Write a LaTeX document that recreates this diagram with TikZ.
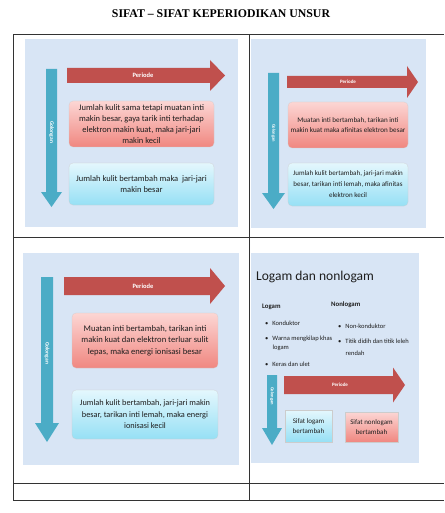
\documentclass[tikz,border=0pt]{standalone}
\usepackage{fontspec}
\setmainfont{Carlito}
\newfontfamily\judulfont{Liberation Serif}
\definecolor{latar}{RGB}{216,229,245}
\definecolor{merah}{RGB}{192,80,77}
\definecolor{tosca}{RGB}{75,172,198}
\definecolor{merahatas}{RGB}{252,214,212}
\definecolor{merahbawah}{RGB}{240,135,128}
\definecolor{biruatas}{RGB}{228,247,253}
\definecolor{birubawah}{RGB}{150,224,245}
\definecolor{teks}{RGB}{30,30,30}
\begin{document}
\begin{tikzpicture}[x=1pt,y=-1pt,
  garis/.style={line width=0.8pt,draw=black!80},
  panel/.style={fill=latar},
  periode/.style={fill=merah},
  golongan/.style={fill=tosca},
  tulisan/.style={text=white,font=\bfseries\fontsize{#1}{#1}\selectfont,inner sep=0},
  kotak/.style={rounded corners=4pt,align=center,inner sep=0,text=teks,draw=white!60!gray,very thin},
  merahbox/.style={kotak,top color=merahatas,bottom color=merahbawah},
  birubox/.style={kotak,top color=biruatas,bottom color=birubawah},
  isi/.style n args={2}{font=\fontsize{#1}{#2}\selectfont},
  butir/.style={anchor=west,inner sep=0,text=teks,font=\fontsize{6.5}{7}\selectfont}]
\useasboundingbox (0,0) rectangle (444,513);
% judul
\node[font=\judulfont\bfseries\fontsize{11.8}{13}\selectfont] (judul) at (221,14) {SIFAT – SIFAT KEPERIODIKAN UNSUR};
% tabel
\draw[garis] (13,34.5)--(444,34.5);
\draw[garis] (13,237)--(444,237);
\draw[garis] (13,483)--(444,483);
\draw[garis] (13,500)--(444,500);
\draw[garis] (13,34.5)--(13,500);
\draw[garis] (249,34.5)--(249,500);
% panel 1: jari-jari atom
\fill[panel] (25,39) rectangle (238,227);
\fill[periode] (67,68)--(210,68)--(210,60)--(225,75.5)--(210,91)--(210,83)--(67,83)--cycle;
\node[tulisan=6.5] (per1) at (143,75.5) {Periode};
\fill[golongan] (46,69)--(57,69)--(57,192)--(62,192)--(51.5,207)--(41,192)--(46,192)--cycle;
\node[tulisan=5.5,rotate=-90] (gol1) at (51.5,132) {Golongan};
\node[merahbox,isi={8.5}{11},minimum width=145,minimum height=46] (m1) at (141.5,124)
  {Jumlah kulit sama tetapi muatan inti\\makin besar, gaya tarik inti terhadap\\elektron makin kuat, maka jari-jari\\makin kecil};
\node[birubox,isi={8.5}{11},minimum width=145,minimum height=42] (b1) at (141.5,184)
  {Jumlah kulit bertambah maka\ \ jari-jari\\makin besar};
% panel 2: afinitas elektron
\fill[panel] (251,39) rectangle (426,228);
\fill[periode] (287,76)--(407,76)--(407,66)--(418,82)--(407,98)--(407,88)--(287,88)--cycle;
\node[tulisan=5] (per2) at (348,82) {Periode};
\fill[golongan] (268,73)--(279,73)--(279,193)--(285,193)--(273.5,209)--(262,193)--(268,193)--cycle;
\node[tulisan=4.5,rotate=-90] (gol2) at (273.5,133) {Golongan};
\node[merahbox,isi={7.1}{10},minimum width=120,minimum height=46] (m2) at (348,125)
  {Muatan inti bertambah, tarikan inti\\makin kuat maka afinitas elektron besar};
\node[birubox,isi={7}{11},minimum width=120,minimum height=43] (b2) at (348,184.5)
  {Jumlah kulit bertambah, jari-jari makin\\besar, tarikan inti lemah, maka afinitas\\elektron kecil};
% panel 3: energi ionisasi
\fill[panel] (23,253) rectangle (239,465);
\fill[periode] (64,277)--(210,277)--(210,268)--(225,286)--(210,304)--(210,295)--(64,295)--cycle;
\node[tulisan=6.5] (per3) at (143,286) {Periode};
\fill[golongan] (41,277)--(53,277)--(53,423)--(59,423)--(47,442)--(35,423)--(41,423)--cycle;
\node[tulisan=5.5,rotate=-90] (gol3) at (47,353) {Golongan};
\node[merahbox,isi={8.6}{11.5},minimum width=146,minimum height=55] (m3) at (145,340.5)
  {Muatan inti bertambah, tarikan inti\\makin kuat dan elektron terluar sulit\\lepas, maka energi ionisasi besar};
\node[birubox,isi={8.3}{11.5},minimum width=146,minimum height=49] (b3) at (145,414.5)
  {Jumlah kulit bertambah, jari-jari makin\\besar, tarikan inti lemah, maka energi\\ionisasi kecil};
% panel 4: logam dan nonlogam
\fill[panel] (251,253) rectangle (419,463);
\node[anchor=west,inner sep=0,text=teks,font=\fontsize{13.5}{14}\selectfont] (judul4) at (256,277) {Logam dan nonlogam};
\node[butir,font=\bfseries\fontsize{6.8}{7}\selectfont] (logam) at (262,307) {Logam};
\node[butir,font=\bfseries\fontsize{6.8}{7}\selectfont] (nonlogam) at (331,305) {Nonlogam};
\node[butir] (l1) at (265,323) {•\hspace{4pt}Konduktor};
\node[butir] (l2) at (265,339) {•\hspace{4pt}Warna mengkilap khas};
\node[butir] (l3) at (272.5,348) {logam};
\node[butir] (l4) at (265,364) {•\hspace{4pt}Keras dan ulet};
\node[butir] (n1) at (338,326) {•\hspace{4pt}Non-konduktor};
\node[butir] (n2) at (338,341) {•\hspace{4pt}Titik didih dan titik leleh};
\node[butir] (n3) at (345.5,353) {rendah};
\fill[periode] (284,376)--(393,376)--(393,367.5)--(405,385)--(393,402.5)--(393,394)--(284,394)--cycle;
\node[tulisan=5] (per4) at (340,385) {Periode};
\fill[golongan] (267,375)--(277,375)--(277,428)--(282,428)--(272,445)--(262,428)--(267,428)--cycle;
\node[tulisan=4.5,rotate=-90] (gol4) at (272,396) {Golongan};
\node[birubox,rounded corners=0pt,isi={7}{10},minimum width=47,minimum height=32] (b4) at (308.5,426)
  {Sifat logam\\bertambah};
\node[merahbox,rounded corners=0pt,isi={7}{10},minimum width=53,minimum height=30] (m4) at (371.5,427)
  {Sifat nonlogam\\bertambah};
\end{tikzpicture}
\end{document}
